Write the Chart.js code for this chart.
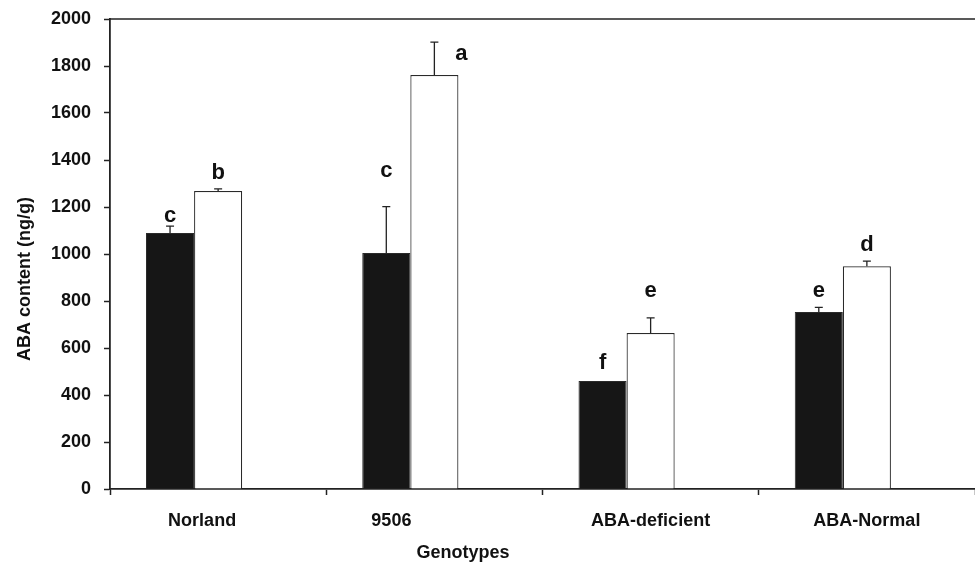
<!DOCTYPE html>
<html>
<head>
<meta charset="utf-8">
<script src="https://cdn.jsdelivr.net/npm/chart.js@4/dist/chart.umd.min.js"></script>
<style>
  html, body { margin: 0; padding: 0; background: #fff; }
  #wrap { width: 975px; height: 566px; }
</style>
</head>
<body>
<div id="wrap"><canvas id="chart1"></canvas></div>
<script>
// values
const genotypes = ['Norland', '9506', 'ABA-deficient', 'ABA-Normal'];
const blackValues = [1089, 1004, 460, 753];
const blackErrors = [30, 198, 0, 20];
const whiteValues = [1268, 1762, 664, 948];
const whiteErrors = [9, 140, 64, 22];
const blackLetters = ['c', 'c', 'f', 'e'];
const whiteLetters = ['b', 'a', 'e', 'd'];
const yTicks = [0, 200, 400, 600, 800, 1000, 1200, 1400, 1600, 1800, 2000];

const FONT = '"Liberation Sans", Arial, sans-serif';

// error bars, significance letters, titles, top frame line
const extras = {
  id: 'extras',
  afterDatasetsDraw(chart, args, opts) {
    const ctx = chart.ctx;
    const y = chart.scales.y;
    const x = chart.scales.x;
    const area = chart.chartArea;
    ctx.save();

    // top frame line
    ctx.strokeStyle = '#222';
    ctx.lineWidth = 1.5;
    ctx.beginPath();
    ctx.moveTo(area.left, area.top);
    ctx.lineTo(area.right, area.top);
    ctx.stroke();

    const sets = [
      { idx: 0, vals: blackValues, errs: blackErrors, letters: blackLetters, shift: opts.blackShift },
      { idx: 1, vals: whiteValues, errs: whiteErrors, letters: whiteLetters, shift: opts.whiteShift }
    ];
    sets.forEach(s => {
      const meta = chart.getDatasetMeta(s.idx);
      meta.data.forEach((bar, i) => {
        const top = y.getPixelForValue(s.vals[i]);
        const errTop = y.getPixelForValue(s.vals[i] + s.errs[i]);
        if (s.errs[i] > 0) {
          ctx.strokeStyle = '#222';
          ctx.lineWidth = 1.3;
          ctx.beginPath();
          ctx.moveTo(bar.x, top);
          ctx.lineTo(bar.x, errTop);
          ctx.moveTo(bar.x - 4, errTop);
          ctx.lineTo(bar.x + 4, errTop);
          ctx.stroke();
        }
        ctx.fillStyle = '#111';
        ctx.font = 'bold 22px ' + FONT;
        ctx.textAlign = 'center';
        ctx.textBaseline = 'alphabetic';
        const sh = s.shift[i];
        ctx.fillText(s.letters[i], bar.x + sh[0], errTop - 4 + sh[1]);
      });
    });

    // category labels
    ctx.font = 'bold 18px ' + FONT;
    ctx.fillStyle = '#111';
    ctx.textAlign = 'center';
    ctx.textBaseline = 'middle';
    genotypes.forEach((g, i) => {
      ctx.fillText(g, x.getPixelForValue(i) + opts.labelShift[i], 521);
    });

    // axis titles
    ctx.fillText('Genotypes', 463, 553);
    ctx.translate(25, 279);
    ctx.rotate(-Math.PI / 2);
    ctx.fillText('ABA content (ng/g)', 0, 0);
    ctx.restore();
  }
};

new Chart(document.getElementById('chart1'), {
  type: 'bar',
  data: {
    labels: genotypes,
    datasets: [
      {
        label: 'black',
        data: blackValues,
        backgroundColor: '#161616',
        borderColor: '#2a2a2a',
        borderWidth: 1
      },
      {
        label: 'white',
        data: whiteValues,
        backgroundColor: '#ffffff',
        borderColor: '#2a2a2a',
        borderWidth: 1.2
      },
      {
        label: '',
        data: genotypes.map(() => null)
      }
    ]
  },
  options: {
    responsive: true,
    maintainAspectRatio: false,
    animation: false,
    datasets: { bar: { barPercentage: 1, categoryPercentage: 0.667 } },
    layout: { padding: { top: 19, right: 0, left: 0, bottom: 0 } },
    plugins: {
      legend: { display: false },
      tooltip: { enabled: false },
      extras: {
        blackShift: [[0, 0], [0, -26], [0, -8], [0, -6]],
        whiteShift: [[0, -6], [27, 22], [0, -17], [0, -6]],
        labelShift: [-16, -43, 0, 0]
      }
    },
    scales: {
      x: {
        grid: { display: true, offset: true, drawOnChartArea: false, tickLength: 6, color: '#222', tickWidth: 1.5 },
        border: { color: '#222', width: 1.8 },
        ticks: { display: false },
        afterFit(scale) { scale.height = 77; }
      },
      y: {
        min: 0,
        max: 2000,
        afterBuildTicks(scale) { scale.ticks = yTicks.map(v => ({ value: v })); },
        grid: { drawOnChartArea: false, tickLength: 6, color: '#222', tickWidth: 1.5 },
        border: { color: '#222', width: 1.8 },
        ticks: {
          padding: 13,
          color: '#111',
          font: { family: FONT, size: 18, weight: 'bold' },
          callback: v => String(v)
        },
        afterFit(scale) {
          scale.width = 110;
          scale.paddingTop = 0;
          scale.paddingBottom = 0;
        }
      }
    }
  },
  plugins: [extras]
});
</script>
</body>
</html>
